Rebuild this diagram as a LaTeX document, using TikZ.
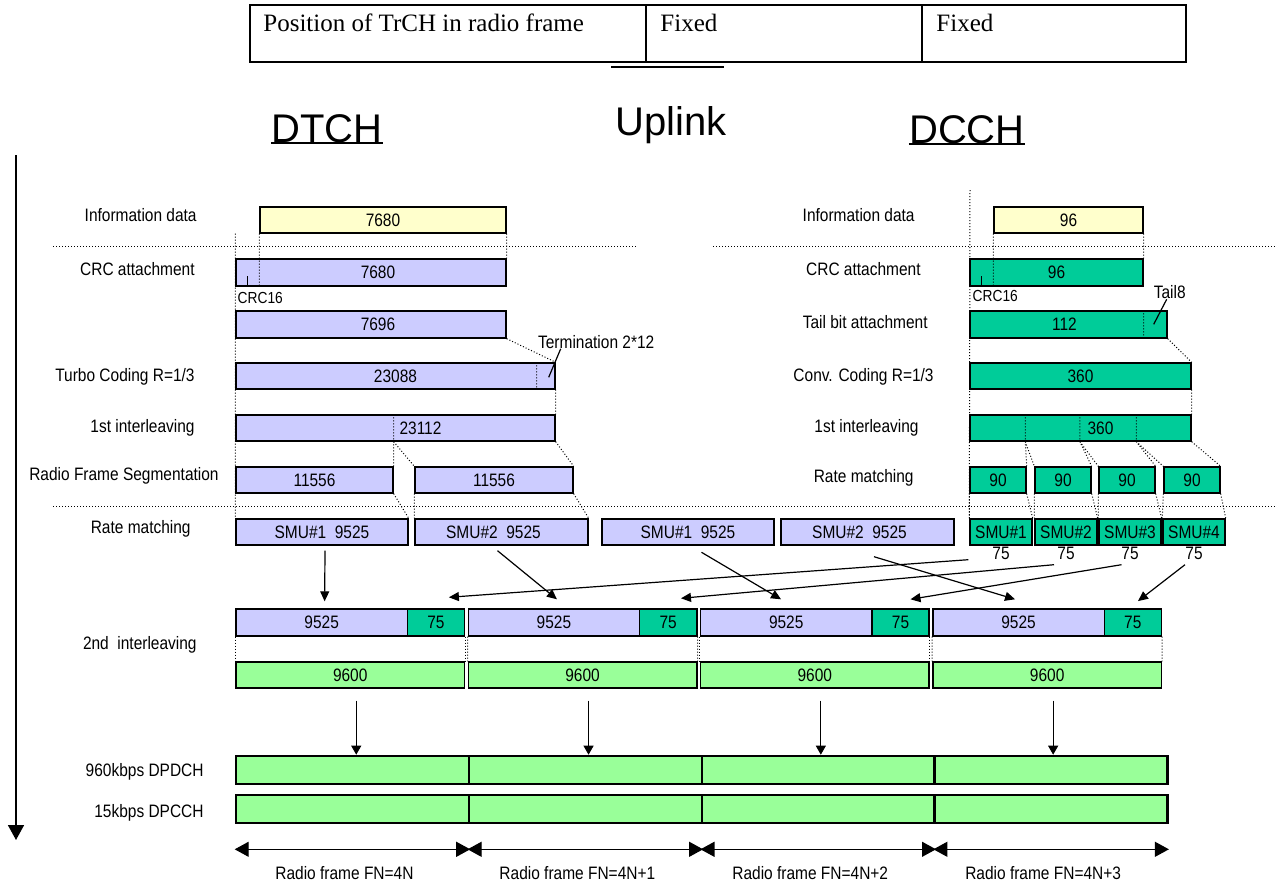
\documentclass[tikz,border=0pt]{standalone}
\usepackage{fontspec}
\setmainfont{Liberation Serif}
\newfontfamily\narrowsans[FakeStretch=0.86]{Liberation Sans}
\newfontfamily\plainsans{Liberation Sans}
\usepackage{tikz}
\usetikzlibrary{fit,arrows.meta,positioning}
\definecolor{lavbox}{HTML}{CCCCFF}
\definecolor{dcchgreen}{HTML}{00CC99}
\definecolor{framegreen}{HTML}{99FF99}
\definecolor{infoyellow}{HTML}{FFFFCC}

\begin{document}
\begin{tikzpicture}[x=0.5pt,y=-0.5pt,font=\narrowsans\fontsize{9}{10}\selectfont]
  \tikzstyle{base box}=[draw,line width=0.7pt,inner sep=0pt]
  \tikzstyle{dotted link}=[line width=0.5pt,dash pattern=on 0.5pt off 1pt]
  \tikzset{
info box/.style={base box,fill=infoyellow},
dtch box/.style={base box,fill=lavbox},
dcch box/.style={base box,fill=dcchgreen},
frame box/.style={base box,fill=framegreen},
phys box/.style={draw,line width=1.3pt,fill=framegreen,inner sep=0pt},
box text/.style={label={center:#1}},
row label/.style={anchor=east,inner sep=0pt},
small text/.style={inner sep=0pt,font=\narrowsans\fontsize{8}{9}\selectfont},
title text/.style={inner sep=0pt,font=\plainsans\fontsize{20}{24}\selectfont},
table text/.style={inner sep=0pt,anchor=west,font=\rmfamily\fontsize{12.5}{14}\selectfont},
map arrow/.style={line width=0.6pt,-{Triangle[length=5pt,width=4.5pt]}},
drop arrow/.style={line width=0.5pt,-{Triangle[length=4.5pt,width=5pt]}},
frame arrow/.style={line width=0.6pt,{Triangle[length=7pt,width=7.5pt]}-{Triangle[length=7pt,width=7.5pt]}}
}
  \useasboundingbox (0,0) rectangle (1282,884);
  % table on top
  \draw[line width=1pt] (250,5) rectangle (1186,62) (646,5) -- (646,62) (922,5) -- (922,62);
  \node[table text] (tpos) at (263,23) {Position of TrCH in radio frame};
  \node[table text] (tfix1) at (660,23) {Fixed};
  \node[table text] (tfix2) at (936,23) {Fixed};
  \draw[line width=0.6pt] (611,67) -- (724,67);
  % titles
  \node[title text,anchor=base] (dtch) at (327,142) {DTCH};
  \node[title text,anchor=base] (uplink) at (671,135) {Uplink};
  \node[title text,anchor=base] (dcch) at (967,143) {DCCH};
  \draw[line width=1pt] ([yshift=-0.5pt]dtch.base west) -- ([yshift=-0.5pt]dtch.base east)
    ([yshift=-0.5pt]dcch.base west) -- ([yshift=-0.5pt]dcch.base east);
  \draw[line width=0.8pt,-{Triangle[length=7.5pt,width=8pt]}] (16,155) -- (16,840);
  % row labels
  \node[row label] (tlinfo) at (197,215) {Information data};
  \node[row label] (tlcrc) at (195,269) {CRC attachment};
  \node[row label] (tlturbo) at (195,377) {Turbo Coding R=1/3};
  \node[row label] (tlint) at (195,428) {1st interleaving};
  \node[row label] (tlseg) at (219,476) {Radio Frame Segmentation};
  \node[row label] (tlrm) at (191,529) {Rate matching};
  \node[row label] (tlint2) at (197,645) {2nd\ \ interleaving};
  \node[row label] (tldpdch) at (204,772) {960kbps DPDCH};
  \node[row label] (tldpcch) at (204,813) {15kbps DPCCH};
  \node[row label] (clinfo) at (915,215) {Information data};
  \node[row label] (clcrc) at (921,269) {CRC attachment};
  \node[row label] (cltail) at (928,322) {Tail bit attachment};
  \node[row label] (clconv) at (934,377) {Conv. Coding R=1/3};
  \node[row label] (clint) at (919,428) {1st interleaving};
  \node[row label] (clrm) at (914,478) {Rate matching};
  \draw[dotted link] (53,246) -- (638,246) (713,246) -- (1275,246) (53,506) -- (1275,506);
  % DTCH
  \node[info box,fit={(260,207) (506,233)},box text=7680] (tinfo) {};
  \node[dtch box,fit={(236,259) (506,286)},label={[xshift=3.5pt]center:7680}] (tcrc) {};
  \node[dtch box,fit={(236,311) (506,338)},label={[xshift=3.5pt]center:7696}] (tcrcb) {};
  \node[dtch box,fit={(236,363) (555,389)},box text=23088] (tturbo) {};
  \node[dtch box,fit={(236,415) (555,441)},label={[xshift=12.5pt]center:23112}] (tint) {};
  \node[dtch box,fit={(236,467) (393,493)},box text=11556] (tseg1) {};
  \node[dtch box,fit={(415,467) (573,493)},box text=11556] (tseg2) {};
  \node[dtch box,fit={(236,519) (408,545)},box text=SMU\#1\ \ 9525] (tsmu1) {};
  \node[dtch box,fit={(415,519) (588,545)},label={[xshift=-4pt]center:SMU\#2\ \ 9525}] (tsmu2) {};
  \node[dtch box,fit={(602,519) (774,545)},box text=SMU\#1\ \ 9525] (tsmu3) {};
  \node[dtch box,fit={(781,519) (954,545)},label={[xshift=-4pt]center:SMU\#2\ \ 9525}] (tsmu4) {};
  \draw[dotted link] (tinfo.south -| tcrc.west) -- (tsmu1.north west)
    (tinfo.south west) -- (tinfo.south west |- tcrc.south)
    (tinfo.south east) -- (tcrc.north east)
    (tcrcb.south east) -- (tturbo.north east)
    ([xshift=-9.5pt]tturbo.north east) -- ([xshift=-9.5pt]tturbo.south east)
    (tturbo.south east) -- (tint.north east)
    (tseg1.east |- tint.north) -- (tseg1.north east)
    (tseg1.east |- tint.south) -- (tseg2.north west)
    (tint.south east) -- (tseg2.north east)
    (tseg1.south east) -- (tsmu1.north east)
    (tseg2.south west) -- (tsmu2.north west)
    (tseg2.south east) -- (tsmu2.north east);
  \draw[line width=0.6pt] ([xshift=6pt]tcrc.south west) -- ++(0,-11);
  \node[small text,below right=2.5pt and 1pt of tcrc.south west] (tcrc16) {CRC16};
  \node[inner sep=0pt,above right=6.75pt and -9pt of tturbo.north east] (tterm) {Termination 2*12};
  \draw[line width=0.6pt] ([xshift=11.5pt]tterm.south west) -- ([shift={(-3.5pt,-7.5pt)}]tturbo.north east);
  % DCCH
  \coordinate (ctop) at (970,190);
  \node[info box,fit={(994,207) (1143,233)},box text=96] (cinfo) {};
  \node[dcch box,fit={(970,259) (1143,286)},box text=96] (ccrc) {};
  \node[dcch box,fit={(970,311) (1167,338)},label={[xshift=-2pt]center:112}] (ctail) {};
  \node[dcch box,fit={(970,363) (1191,389)},box text=360] (cconv) {};
  \node[dcch box,fit={(970,415) (1191,441)},label={[xshift=10pt]center:360}] (cint) {};
  \foreach \i/\x in {1/970,2/1035,3/1099,4/1164}
    \node[dcch box,fit={(\x,467) (\x+56,493)},box text=90] (crm\i) {};
  \foreach \i/\x in {1/970,2/1035,3/1099,4/1163}
    \node[dcch box,fit={(\x,519) (\x+62,545)},box text=SMU\#\i,label={[inner sep=0.5pt]below:75}] (csmu\i) {};
  \draw[dotted link] (ctop) -- (csmu1.north west)
    (cinfo.south west) -- (cinfo.south west |- ccrc.south)
    (cinfo.south east) -- (ccrc.north east)
    (ccrc.east |- ctail.north) -- (ccrc.east |- ctail.south)
    (ctail.south east) -- (cconv.north east)
    (cconv.south east) -- (cint.north east)
    (cint.south east) -- (crm4.north east);
  \foreach \i/\j/\s in {1/2/28pt,2/3/55.3pt,3/4/83.5pt}{
    \coordinate (cs\i) at ([xshift=\s]cint.south west);
    \draw[dotted link] (cs\i |- cint.north) -- (cs\i) -- (crm\i.north east) (cs\i) -- (crm\j.north west);
  }
  \foreach \i in {1,...,4}
    \draw[dotted link] (crm\i.south west) -- (csmu\i.north west) (crm\i.south east) -- (csmu\i.north east);
  \draw[line width=0.6pt] ([xshift=6pt]ccrc.south west) -- ++(0,-11);
  \node[small text,below right=1.5pt and 1.5pt of ccrc.south west] (ccrc16) {CRC16};
  \node[inner sep=0pt,above=5.5pt of ctail.north east,xshift=1pt] (ctail8) {Tail8};
  \draw[line width=0.6pt] ([xshift=-1.5pt]ctail8.south) -- ([shift={(-7pt,-7pt)}]ctail.north east);
  % radio frames
  \foreach \i/\fn in {1/4N,2/4N+1,3/4N+2,4/4N+3}{
    \pgfmathsetmacro\fx{236+232.3*(\i-1)}
    \pgfmathsetmacro\px{236+232.9*(\i-1)}
    \node[dtch box,fit={(\fx,609) (\fx+171.3,636)},box text=9525] (d\i) {};
    \node[dcch box,fit={(\fx+171.3,609) (\fx+228.5,636)},box text=75] (e\i) {};
    \node[frame box,fit={(\fx,662) (\fx+228.5,688)},box text=9600] (f\i) {};
    \node[phys box,fit={(\px,756) (\px+232.9,784)}] (p\i) {};
    \node[phys box,fit={(\px,795) (\px+232.9,823)}] (q\i) {};
    \draw[dotted link] (d\i.south west) -- (f\i.north west) (e\i.south east) -- (f\i.north east);
    \draw[drop arrow] ([shift={(3pt,-6pt)}]f\i.south) -- ([xshift=3pt]f\i.south |- p\i.north);
    \draw[frame arrow] ([yshift=-12.5pt]q\i.south west) -- ([yshift=-12.5pt]q\i.south east)
      node[midway,yshift=-12pt,xshift=-4pt] (fn\i) {Radio frame FN=\fn};
  }
  % SMU mapping
  \draw[map arrow] ([shift={(1.5pt,-2.5pt)}]tsmu1.south) -- ([shift={(1.5pt,3.5pt)}]d1.north);
  \draw[map arrow] ([shift={(-2pt,-2.5pt)}]tsmu2.south) -- ([shift={(1.5pt,4.5pt)}]d2.north);
  \draw[map arrow] ([shift={(6.75pt,-3.3pt)}]tsmu3.south) -- ([shift={(-2.6pt,4.5pt)}]d3.north);
  \draw[map arrow] ([shift={(3.25pt,-5.5pt)}]tsmu4.south) -- ([shift={(-1.75pt,4.5pt)}]d4.north);
  \draw[map arrow] ([shift={(-0.5pt,-7pt)}]csmu1.south west) -- ([shift={(6.5pt,5.5pt)}]e1.north);
  \draw[map arrow] ([shift={(-6pt,-9.5pt)}]csmu2.south) -- ([shift={(6.4pt,5pt)}]e2.north);
  \draw[map arrow] ([shift={(-4.25pt,-9.5pt)}]csmu3.south) -- ([shift={(5pt,4.5pt)}]e3.north);
  \draw[map arrow] ([shift={(-4.5pt,-9.5pt)}]csmu4.south) -- ([shift={(2.6pt,3.6pt)}]e4.north);
\end{tikzpicture}
\end{document}
